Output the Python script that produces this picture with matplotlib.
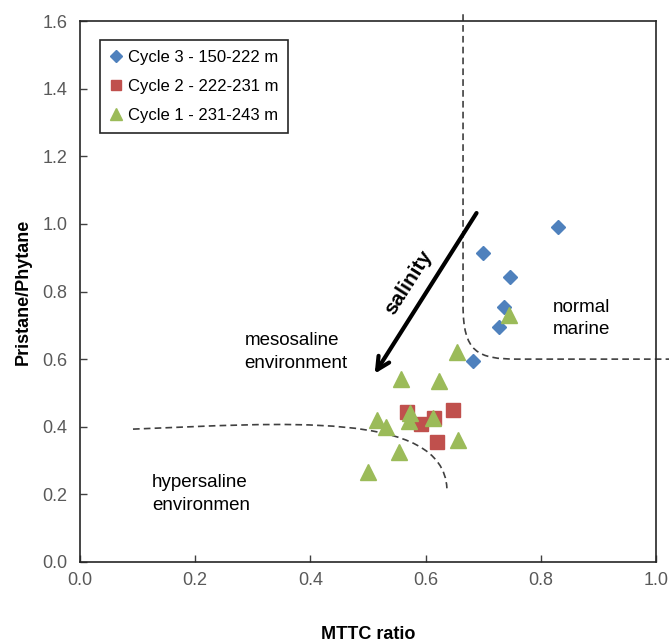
import matplotlib
matplotlib.use("Agg")
import matplotlib.pyplot as plt
from matplotlib.path import Path
from matplotlib.patches import PathPatch

plt.rcParams['font.family'] = ['Liberation Sans', 'DejaVu Sans']

# data
cycle3_x = [0.830, 0.700, 0.747, 0.736, 0.727, 0.682]
cycle3_y = [0.990, 0.915, 0.844, 0.753, 0.694, 0.593]

cycle2_x = [0.567, 0.592, 0.615, 0.648, 0.620]
cycle2_y = [0.444, 0.407, 0.427, 0.451, 0.355]

cycle1_x = [0.558, 0.624, 0.516, 0.531, 0.573, 0.572, 0.613, 0.657, 0.554, 0.500, 0.654, 0.744]
cycle1_y = [0.542, 0.535, 0.419, 0.400, 0.441, 0.417, 0.427, 0.362, 0.324, 0.265, 0.620, 0.730]

labels = ["Cycle 3 - 150-222 m", "Cycle 2 - 222-231 m", "Cycle 1 - 231-243 m"]
ticks_x = [0.0, 0.2, 0.4, 0.6, 0.8, 1.0]
ticks_y = [0.0, 0.2, 0.4, 0.6, 0.8, 1.0, 1.2, 1.4, 1.6]

# boundary sketches (data coords)
marine_bound = [(0.665, 1.62), (0.665, 0.76), (0.665, 0.62), (0.69, 0.60), (0.76, 0.60), (1.023, 0.60)]
hyper_bound = [(0.092, 0.393), (0.35, 0.41), (0.63, 0.45), (0.637, 0.218)]

fig = plt.figure(figsize=(6.69, 6.44), dpi=100)
ax = fig.add_axes([80/669, 1-562/644, 576/669, 541/644])

blue, red, green = '#4F81BD', '#C0504D', '#9BBB59'

ax.plot(cycle3_x, cycle3_y, 'D', color=blue, markersize=7.5, ls='none', label=labels[0], zorder=4)
ax.plot(cycle2_x, cycle2_y, 's', color=red, markersize=9.5, ls='none', label=labels[1], zorder=3)
ax.plot(cycle1_x, cycle1_y, '^', color=green, markersize=11, ls='none', label=labels[2], zorder=5)

# dashed boundaries
codes = [Path.MOVETO, Path.LINETO, Path.CURVE4, Path.CURVE4, Path.CURVE4, Path.LINETO]
ax.add_patch(PathPatch(Path(marine_bound, codes), fill=False, ec='#404040', lw=1.2,
                       ls=(0, (4, 2.5)), clip_on=False, zorder=2))
codes2 = [Path.MOVETO, Path.CURVE4, Path.CURVE4, Path.CURVE4]
ax.add_patch(PathPatch(Path(hyper_bound, codes2), fill=False, ec='#404040', lw=1.2,
                       ls=(0, (4, 2.5)), clip_on=False, zorder=2))

# salinity arrow
ax.annotate('', xy=(0.509, 0.550), xytext=(0.691, 1.039),
            arrowprops=dict(arrowstyle='->,head_length=0.9,head_width=0.45', lw=3, color='black'),
            zorder=6)
ax.text(0.571, 0.826, 'salinity', rotation=57.5, fontsize=15, fontweight='bold',
        ha='center', va='center', zorder=6)

ax.text(0.286, 0.621, 'mesosaline\nenvironment', fontsize=13.5, ha='left', va='center', linespacing=1.45)
ax.text(0.821, 0.72, 'normal\nmarine', fontsize=13.5, ha='left', va='center', linespacing=1.45)
ax.text(0.125, 0.202, 'hypersaline\nenvironmen', fontsize=13.5, ha='left', va='center', linespacing=1.45)

ax.set_xlim(0, 1.0)
ax.set_ylim(0, 1.6)
ax.set_xticks(ticks_x)
ax.set_yticks(ticks_y)
ax.set_xticklabels([f"{t:.1f}" for t in ticks_x])
ax.set_yticklabels([f"{t:.1f}" for t in ticks_y])
ax.tick_params(direction='in', length=5, width=1, colors='#404040', labelcolor='#595959',
               labelsize=13)
ax.tick_params(axis='x', pad=7)
ax.tick_params(axis='y', pad=9)
for s in ax.spines.values():
    s.set_color('#262626')
    s.set_linewidth(1.2)

ax.set_xlabel('MTTC ratio', fontsize=13, fontweight='bold', labelpad=27)
ax.set_ylabel('Pristane/Phytane', fontsize=13, fontweight='bold', labelpad=8)

leg = ax.legend(loc='upper left', bbox_to_anchor=(0.035, 0.965), borderaxespad=0,
                fontsize=12, handlelength=0.7, handletextpad=0.35, labelspacing=0.85,
                borderpad=0.6, fancybox=False, framealpha=1, markerscale=0.8)
leg.get_frame().set_edgecolor('#262626')
leg.get_frame().set_linewidth(1.2)

fig.savefig('out.png', dpi=100)
